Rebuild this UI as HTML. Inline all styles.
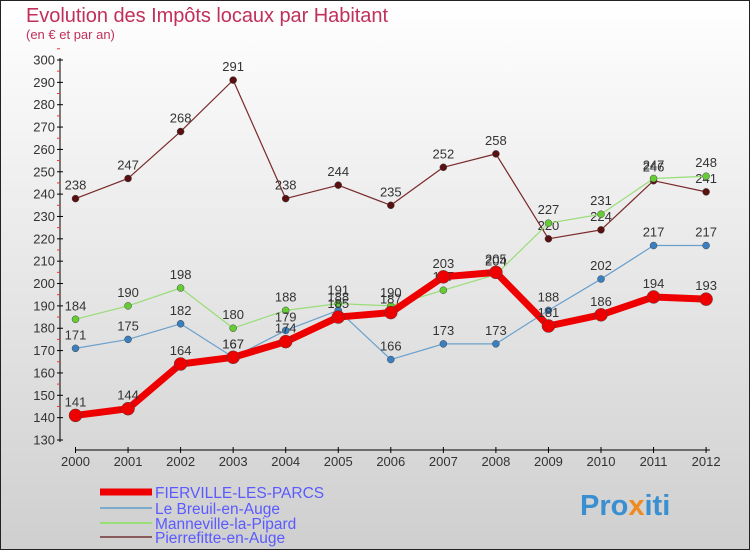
<!DOCTYPE html>
<html><head><meta charset="utf-8"><style>
body{margin:0;width:750px;height:550px;overflow:hidden;font-family:"Liberation Sans",sans-serif}
svg text{font-family:"Liberation Sans",sans-serif}
</style></head><body>
<svg width="750" height="550" xmlns="http://www.w3.org/2000/svg">
<defs><linearGradient id="bg" x1="0" y1="0" x2="0" y2="1"><stop offset="0" stop-color="#ffffff"/><stop offset="1" stop-color="#cfcfcf"/></linearGradient></defs>
<rect x="0.5" y="0.5" width="749" height="549" fill="url(#bg)" stroke="#222"/>
<text x="26" y="22" font-size="20" fill="#c0305a" textLength="362">Evolution des Impôts locaux par Habitant</text>
<text x="26" y="39" font-size="13" fill="#c0305a">(en € et par an)</text>
<g id="axes"></g>
<g id="series"></g>
<g id="legend"></g>
<text x="580" y="515" font-size="29" font-weight="bold" fill="#3a8fd0">Pro<tspan fill="#f08a20">x</tspan>iti</text>
</svg>
<script>
const years=["2000","2001","2002","2003","2004","2005","2006","2007","2008","2009","2010","2011","2012"];
const yTicks=[130,140,150,160,170,180,190,200,210,220,230,240,250,260,270,280,290,300];
const fierville=[141,144,164,167,174,185,187,203,205,181,186,194,193];
const breuil=[171,175,182,167,179,188,166,173,173,188,202,217,217];
const manneville=[184,190,198,180,188,191,190,197,204,227,231,247,248];
const pierrefitte=[238,247,268,291,238,244,235,252,258,220,224,246,241];
const NS="http://www.w3.org/2000/svg";
const xs=i=>75.5+i*52.55;
const ys=v=>60+(300-v)*(380/170);
function mk(t,a,p){const e=document.createElementNS(NS,t);for(const k in a)e.setAttribute(k,a[k]);p.appendChild(e);return e;}
const ax=document.getElementById('axes');
const yl=mk('line',{x1:60,y1:58,x2:60,y2:442,stroke:'#000'},ax);


yTicks.forEach(v=>{
 const y=ys(v);
 mk('line',{x1:57,y1:y,x2:63,y2:y,stroke:'#000'},ax);
 if(v>130) mk('line',{x1:57,y1:y-11.2,x2:60,y2:y-11.2,stroke:'#e33'},ax);
 const t=mk('text',{x:55,y:y+4.5,'font-size':13,fill:'#333','text-anchor':'end'},ax);t.textContent=v;
 
 
});
const xl=mk('line',{x1:75,y1:450,x2:710,y2:450,stroke:'#000'},ax);


years.forEach((yr,i)=>{
 const x=xs(i);
 mk('line',{x1:x,y1:447,x2:x,y2:453,stroke:'#000'},ax);
 const t=mk('text',{x:x,y:466,'font-size':13,fill:'#333','text-anchor':'middle'},ax);t.textContent=yr;
 
 
});
const sg=document.getElementById('series');
const defs=[
 [pierrefitte,'#7a2a2a','#5a1010',1.2,3.5,'pierrefitte'],
 [manneville,'#99dd77','#66cc33',1.2,3.5,'manneville'],
 [breuil,'#6aa0cc','#3a7fc0',1.2,3.5,'breuil'],
 [fierville,'#ee0000','#ee0000',7,6.5,'fierville']];
defs.forEach(([d,c,pc,w,r,n])=>{
 const g=mk('g',{},sg);
 
 
 const pl=mk('polyline',{points:d.map((v,i)=>xs(i)+','+ys(v)).join(' '),fill:'none',stroke:c,'stroke-width':w,'stroke-linejoin':'round'},g);
 
 
 d.forEach((v,i)=>{
  const p=mk('circle',{cx:xs(i),cy:ys(v),r:r,fill:pc,stroke:'#444','stroke-width':0.5},g);
  
  
  const t=mk('text',{x:xs(i),y:ys(v)-9,'font-size':13,fill:'#333','text-anchor':'middle'},g);t.textContent=v;
  
  
 });
});
const lg=document.getElementById('legend');
[['FIERVILLE-LES-PARCS','#ee0000',7,492],['Le Breuil-en-Auge','#7aaacc',2,508],['Manneville-la-Pipard','#99dd77',2,523],['Pierrefitte-en-Auge','#8a5a5a',2,537]].forEach(([n,c,w,y])=>{
 const g=mk('g',{},lg);
 
 
 mk('line',{x1:100,y1:y,x2:152,y2:y,stroke:c,'stroke-width':w},g);
 const t=mk('text',{x:155,y:y+6,'font-size':15.5,fill:'#5a5aff'},g);t.textContent=n;
});
</script>
</body></html>
